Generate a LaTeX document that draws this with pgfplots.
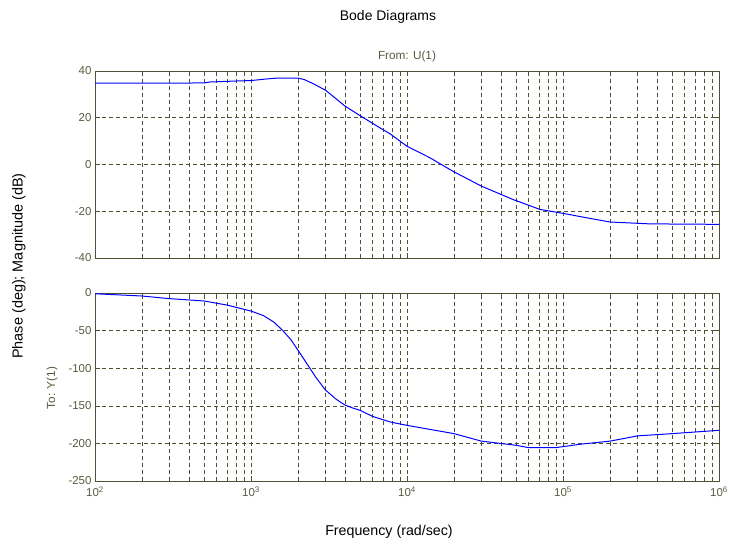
\documentclass[border=0pt]{standalone}
\usepackage{fontspec}
\setmainfont{Liberation Sans}
\usepackage{pgfplots}
\pgfplotsset{compat=1.18}
\definecolor{axc}{RGB}{80,80,50}
\definecolor{tlc}{RGB}{90,90,64}
\definecolor{bodeblue}{RGB}{0,0,255}
\pgfplotsset{bodestyle/.style={
  scale only axis, width=624bp, xmin=100, xmax=1e6,
  axis line style={axc, line width=0.8bp},
  every tick/.style={axc, line width=0.6bp},
  tick align=inside, major tick length=5bp, minor tick length=3bp,
  xmajorgrids=true, xminorgrids=true, ymajorgrids=true,
  major grid style={axc, dash pattern=on 4bp off 3bp, line width=0.6bp},
  minor grid style={axc, dash pattern=on 4bp off 3bp, line width=0.6bp},
  ticklabel style={font=\fontsize{11.5}{12}\selectfont, text=tlc},
  xtick={100,1000,10000,100000,1000000},
}}
\begin{document}
\begin{tikzpicture}
\useasboundingbox (0bp,0bp) rectangle (730bp,-546bp);
\begin{semilogxaxis}[bodestyle, height=187bp, at={(95bp,-71bp)}, anchor=north west,
  ymin=-40, ymax=40, ytick={-40,-20,0,20,40},
  yticklabels={-40,-20,0,20,40}, xticklabels={}]
\addplot[bodeblue, line width=1bp] coordinates {
(100,34.8) (200,34.8) (300,34.8) (500,34.9) (546,35.3) (870,35.8) (1000,35.9)
(1260,36.6) (1500,37.0) (2000,37.0) (2200,36.3) (2500,34.6) (3000,31.8)
(3500,28.2) (4000,25.0) (5000,20.9) (6700,15.7) (7800,13.1) (10000,7.8)
(14000,2.9) (19700,-2.9) (30100,-9.3) (47900,-15.0) (71000,-19.2)
(100000,-20.9) (142000,-22.8) (200000,-24.6) (360000,-25.4) (1000000,-25.6)
};
\end{semilogxaxis}
\begin{semilogxaxis}[bodestyle, height=188bp, at={(95bp,-293bp)}, anchor=north west,
  ymin=-250, ymax=0, ytick={-250,-200,-150,-100,-50,0},
  yticklabels={-250,-200,-150,-100,-50,0},
  xticklabel style={yshift=-2bp},
  xticklabels={10\textsuperscript{2},10\textsuperscript{3},10\textsuperscript{4},10\textsuperscript{5},10\textsuperscript{6}}]
\addplot[bodeblue, line width=1bp] coordinates {
(100,-1) (200,-4) (300,-7.5) (500,-10.6) (700,-16) (1000,-24) (1200,-30)
(1400,-38.6) (1600,-50) (1800,-62) (2000,-76) (2300,-95) (2600,-112)
(3000,-129) (3500,-141) (4000,-149) (4500,-153) (5000,-156) (6000,-164)
(7800,-171.5) (10000,-176) (20000,-187) (30000,-197) (50000,-202.5)
(60000,-205.6) (90000,-205.6) (130000,-201) (200000,-197) (300000,-190)
(500000,-187) (1000000,-182.6)
};
\end{semilogxaxis}
\node[font=\fontsize{14}{16}\selectfont] at (388bp,-17bp) {Bode Diagrams};
\node[font=\fontsize{11.8}{13}\selectfont, text=tlc] at (407bp,-56bp) {From: U(1)};
\node[rotate=90, font=\fontsize{14.5}{16}\selectfont] at (19bp,-266bp) {Phase (deg); Magnitude (dB)};
\node[rotate=90, font=\fontsize{11.8}{13}\selectfont, text=tlc] at (52bp,-388bp) {To: Y(1)};
\node[font=\fontsize{14.3}{16}\selectfont] at (389bp,-532bp) {Frequency (rad/sec)};
\end{tikzpicture}
\end{document}
